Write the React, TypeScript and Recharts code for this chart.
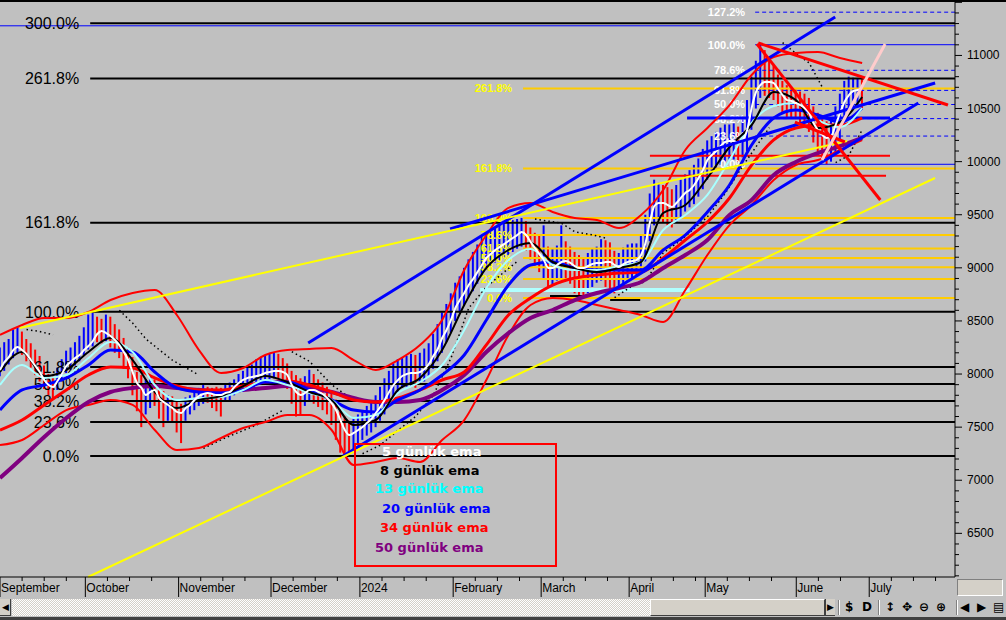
import React from 'react'
import { ComposedChart, Bar, Line, XAxis, YAxis, ReferenceLine, Cell } from 'recharts'

document.body.style.margin = '0'

const FONT = 'Liberation Sans, Arial, sans-serif'
const X_MAX = 216
const Y_MIN = 6089
const Y_MAX = 11522

// daily bars, one value per trading day (Sep 2023 .. late Jun 2024)
const highs = [
  8250, 8300, 8330, 8420, 8440, 8400, 8330, 8290, 8230, 8170,
  8080, 8000, 7990, 8060, 8140, 8220, 8250, 8300, 8360, 8440,
  8560, 8590, 8540, 8520, 8560, 8540, 8470, 8420, 8340, 8250,
  8160, 8020, 7990, 7950, 7980, 7950, 7880, 7840, 7800, 7790,
  7760, 7720, 7780, 7800, 7850, 7870, 7900, 7880, 7870, 7880,
  7870, 7900, 7920, 7950, 8000, 8030, 8060, 8090, 8140, 8160,
  8180, 8190, 8200, 8190, 8150, 8100, 8030, 7990, 7960, 7980,
  8040, 8000, 7950, 7920, 7880, 7840, 7760, 7680, 7600, 7560,
  7580, 7620, 7650, 7700, 7730, 7800, 7880, 7960, 8030, 8100,
  8140, 8160, 8170, 8190, 8180, 8200, 8240, 8290, 8380, 8470,
  8580, 8660, 8760, 8860, 8920, 9000, 9080, 9150, 9220, 9290,
  9330, 9360, 9380, 9400, 9420, 9440, 9450, 9460, 9470, 9440,
  9380, 9330, 9300, 9400, 9200, 9180, 9210, 9400, 9250, 9200,
  9150, 9120, 9100, 9140, 9180, 9200, 9270, 9260, 9240, 9160,
  9140, 9190, 9220, 9230, 9230, 9300, 9500, 9700, 9830, 9800,
  9780, 9760, 9740, 9780, 9830, 9880, 9920, 9970, 10030, 10120,
  10200, 10240, 10280, 10320, 10350, 10350, 10360, 10330, 10400, 10580,
  10800, 10950, 11101, 11050, 10950, 10900, 10820, 10760, 10720, 10700,
  10680, 10660, 10640, 10600, 10520, 10460, 10400, 10380, 10420, 10520,
  10640, 10760, 10800, 10790, 10780, 10780,
]
const lows = [
  7980, 8030, 8090, 8150, 8200, 8180, 8120, 8060, 7990, 7930,
  7860, 7800, 7760, 7850, 7930, 8010, 8040, 8080, 8120, 8180,
  8230, 8260, 8300, 8290, 8310, 8250, 8200, 8150, 8050, 7960,
  7800, 7650, 7500, 7620, 7680, 7700, 7580, 7500, 7560, 7540,
  7450, 7350, 7560, 7620, 7660, 7700, 7720, 7730, 7680, 7650,
  7600, 7740, 7750, 7800, 7840, 7870, 7880, 7880, 7900, 7920,
  7930, 7950, 7960, 7950, 7910, 7860, 7720, 7600, 7620, 7700,
  7740, 7720, 7690, 7660, 7620, 7520, 7380, 7260, 7228, 7240,
  7290, 7330, 7380, 7420, 7450, 7500, 7560, 7620, 7700, 7760,
  7830, 7870, 7880, 7880, 7870, 7900, 7930, 7980, 8050, 8120,
  8200, 8300, 8390, 8500, 8580, 8650, 8720, 8780, 8850, 8920,
  8980, 9020, 9050, 9070, 9100, 9120, 9150, 9180, 9200, 9160,
  9080, 9020, 8960, 8900, 8800, 8830, 8880, 8900, 8900, 8850,
  8760, 8730, 8717, 8760, 8820, 8860, 8880, 8820, 8800, 8760,
  8780, 8840, 8880, 8900, 8920, 8950, 9060, 9250, 9400, 9450,
  9430, 9400, 9380, 9430, 9480, 9530, 9570, 9600, 9670, 9740,
  9830, 9890, 9930, 9970, 10000, 10020, 10020, 10000, 10040, 10100,
  10300, 10500, 10600, 10620, 10600, 10580, 10520, 10460, 10420, 10420,
  10400, 10370, 10340, 10280, 10180, 10090, 10020, 9975, 10000, 10080,
  10200, 10350, 10480, 10500, 10510, 10500,
]
const ema5 = [
  8038, 8113, 8160, 8226, 8255, 8226, 8189, 8132, 8076, 8019,
  7944, 7897, 7878, 7935, 8000, 8076, 8113, 8151, 8179, 8226,
  8264, 8311, 8377, 8405, 8386, 8358, 8321, 8273, 8208, 8132,
  8019, 7916, 7869, 7803, 7831, 7850, 7774, 7737, 7709, 7680,
  7643, 7633, 7680, 7709, 7756, 7793, 7812, 7822, 7812, 7803,
  7803, 7822, 7831, 7878, 7916, 7944, 7963, 7972, 7982, 7991,
  8010, 8019, 8029, 8029, 8019, 7991, 7897, 7831, 7803, 7822,
  7850, 7850, 7831, 7812, 7774, 7727, 7661, 7567, 7473, 7426,
  7445, 7473, 7501, 7539, 7577, 7633, 7690, 7756, 7831, 7897,
  7944, 7982, 8000, 8010, 8010, 8019, 8047, 8095, 8170, 8236,
  8339, 8415, 8509, 8622, 8697, 8763, 8838, 8895, 8961, 9027,
  9093, 9130, 9168, 9196, 9224, 9253, 9281, 9309, 9337, 9309,
  9243, 9187, 9130, 9074, 8999, 8999, 9027, 9055, 9064, 9046,
  9017, 8999, 8999, 9017, 9036, 9046, 9046, 9055, 9055, 9027,
  9008, 9036, 9055, 9064, 9074, 9121, 9234, 9432, 9582, 9611,
  9611, 9592, 9573, 9611, 9658, 9705, 9733, 9780, 9846, 9921,
  10015, 10063, 10100, 10147, 10185, 10194, 10194, 10176, 10204, 10298,
  10505, 10656, 10722, 10750, 10750, 10740, 10684, 10627, 10580, 10571,
  10552, 10533, 10505, 10458, 10364, 10298, 10251, 10223, 10241, 10345,
  10458, 10562, 10627, 10665, 10675, 10684,
]

// slower averages and bollinger bands, read every 5th trading day
const SAMPLE_STEP = 5
const ema8 = [8019, 8208, 7982, 8038, 8208, 8339, 8132, 7831, 7680, 7756, 7793, 7887, 7982, 7925, 7831, 7756, 7520, 7567, 7850, 7963, 8226, 8650, 8999, 9168, 9234, 9055, 8999, 8961, 8999, 9055, 9516, 9592, 9846, 10138, 10345, 10656, 10580, 10317, 10373, 10609]
const ema13 = [7897, 8085, 7963, 7991, 8151, 8302, 8208, 7897, 7756, 7774, 7784, 7850, 7944, 7897, 7822, 7756, 7586, 7614, 7822, 7925, 8085, 8415, 8810, 9074, 9177, 9027, 8980, 8980, 9017, 9055, 9356, 9498, 9686, 10015, 10364, 10524, 10552, 10392, 10326, 10505]
const ema20 = [7661, 7850, 7897, 7963, 8085, 8226, 8208, 8019, 7869, 7831, 7822, 7850, 7925, 7925, 7850, 7756, 7661, 7643, 7756, 7850, 7991, 8179, 8509, 8838, 9027, 9055, 8999, 8980, 8980, 8980, 9168, 9309, 9526, 9780, 10157, 10411, 10486, 10439, 10373, 10505]
const ema34 = [7473, 7567, 7709, 7850, 7991, 8066, 8057, 7963, 7887, 7850, 7850, 7887, 7925, 7935, 7897, 7831, 7756, 7737, 7774, 7850, 7944, 8019, 8274, 8556, 8716, 8838, 8904, 8933, 8951, 8961, 9093, 9262, 9432, 9658, 9968, 10204, 10317, 10345, 10345, 10411]
const ema50 = [7021, 7210, 7407, 7586, 7737, 7831, 7869, 7887, 7869, 7850, 7840, 7850, 7869, 7887, 7869, 7831, 7774, 7737, 7737, 7756, 7850, 7991, 8208, 8386, 8528, 8603, 8697, 8763, 8810, 8867, 8999, 9121, 9262, 9498, 9639, 9874, 9997, 10081, 10147, 10223]
const bbUpper = [8368, 8462, 8528, 8528, 8584, 8697, 8763, 8791, 8556, 8226, 8010, 8057, 8179, 8226, 8236, 8245, 8132, 8038, 8132, 8274, 8509, 8980, 9309, 9564, 9611, 9526, 9469, 9451, 9375, 9498, 9733, 10110, 10317, 10533, 10816, 10985, 11023, 11032, 10976, 10929]
const bbLower = [7332, 7379, 7520, 7661, 7709, 7756, 7709, 7473, 7285, 7304, 7398, 7492, 7548, 7614, 7614, 7473, 7144, 7172, 7210, 7172, 7379, 7567, 7944, 8368, 8650, 8716, 8697, 8650, 8603, 8556, 8490, 8791, 9121, 9403, 9592, 9827, 9968, 10015, 10110, 10204]

// parabolic-sar style dotted runs: [day, price]
const sarRuns: [number, number][][] = [
  [[6, 8420], [9, 8400], [12, 8370]],
  [[27, 8600], [30, 8480], [33, 8330], [36, 8230], [39, 8130], [42, 8060], [45, 7990]],
  [[46, 7300], [51, 7400], [58, 7520], [64, 7660]],
  [[66, 8210], [70, 8120], [75, 7900], [79, 7780]],
  [[82, 7250], [86, 7330], [90, 7470], [94, 7600], [98, 7800], [102, 8150], [106, 8620], [110, 8820], [114, 8960], [117, 9060]],
  [[121, 9460], [124, 9440], [127, 9420], [130, 9340], [134, 9310], [137, 9280]],
  [[139, 8720], [143, 8830], [146, 8870], [150, 9140], [154, 9260], [160, 9480], [164, 9700], [168, 9960], [171, 10140], [174, 10320]],
  [[177, 11120], [180, 11020], [183, 10930], [186, 10700]],
  [[189, 9990], [192, 10060], [195, 10300]],
]

// fibonacci sets
const blackFibLow = 7228
const blackFibHigh = 8586
const blackFibRatios = [0, 23.6, 38.2, 50, 61.8, 100, 161.8, 261.8, 300]
const blackFibStart = 20.4
const yellowFibLow = 8717
const yellowFibHigh = 9470
const yellowFibRatios = [0, 23.6, 38.2, 50, 61.8, 78.6, 100, 161.8, 261.8]
const yellowFibStart = 118.3
const blueFibLow = 9975
const blueFibHigh = 11101
const blueFibRatios = [0, 23.6, 38.2, 50, 61.8, 78.6, 100, 127.2]
const blueFibStart = 170.8

// hand drawn trend lines: [[day, price], [day, price]]
const blueTrends = [
  [[69.7, 8292], [188.9, 11362]],
  [[77.6, 7228], [207.7, 10552]],
  [[101.8, 9366], [211.5, 10740]],
]
const yellowTrends = [
  [[19.9, 6089], [211.5, 9846]],
  [[4.5, 8434], [191.6, 10194]],
]
const redTrends = [
  [[171.5, 11117], [214.4, 10533]],
  [[171.2, 11108], [199.1, 9639]],
  [[179.8, 10373], [191.1, 10185]],
]
const pinkTrend = [[185.9, 10015], [200.2, 11108]]

// flat marker lines: [fromDay, toDay, price]
const redFlats = [[147, 201.3, 10056], [147, 200.4, 9868]]
const blueFlat = [155.4, 201.3, 10411]
const cyanFlat = [108.6, 156, 8791]
const blackFlats = [[124.4, 133.5, 8735], [138, 144.8, 8697]]
const topBlueLevel = 11279

const monthTicks = [0, 19.3, 40.4, 61.3, 81.4, 102.5, 122.4, 142.3, 159.5, 180.1, 196.6]
const monthLabels = ['September', 'October', 'November', 'December', '2024', 'February', 'March', 'April', 'May', 'June', 'July']

const legendItems = ['5 günlük ema', '8 günlük ema', '13 günlük ema', '20 günlük ema', '34 günlük ema', '50 günlük ema']
const legendColors = ['#ffffff', '#000000', '#00ffff', '#0000ff', '#ff0000', '#800080']

const rows = Array.from({ length: X_MAX + 1 }, (_, i) => {
  const row: Record<string, any> = { x: i }
  if (i < highs.length) row.range = [lows[i], highs[i]]
  if (i < ema5.length) row.e5 = ema5[i]
  if (i % SAMPLE_STEP === 0) {
    const k = i / SAMPLE_STEP
    if (k < ema8.length) {
      row.e8 = ema8[k]
      row.e13 = ema13[k]
      row.e20 = ema20[k]
      row.e34 = ema34[k]
      row.e50 = ema50[k]
      row.bbU = bbUpper[k]
      row.bbL = bbLower[k]
    }
  }
  return row
})
sarRuns.forEach((run, s) => run.forEach(([d, v]) => { rows[d]['sar' + s] = v }))

const barColor = (i: number) => {
  if (i === 0) return '#0000ff'
  const mid = (highs[i] + lows[i]) / 2
  const prev = (highs[i - 1] + lows[i - 1]) / 2
  return mid >= prev ? '#0000ff' : '#ff0000'
}

const xTicks: number[] = []
monthTicks.forEach((m, k) => {
  xTicks.push(m)
  const next = k + 1 < monthTicks.length ? monthTicks[k + 1] : X_MAX
  for (let t = m + 5; t < next - 1.5; t += 5) xTicks.push(Math.round(t * 10) / 10)
})
const yTicks: number[] = []
for (let v = 6100; v <= 11500; v += 100) yTicks.push(v)

const pct = (r: number) => r.toFixed(1) + '%'

function DateTick(props: any) {
  const { x, y, payload } = props
  const m = monthTicks.indexOf(payload.value)
  if (m < 0) return <line x1={x} x2={x} y1={y} y2={y + 4} stroke="#000" />
  return (
    <g>
      <line x1={x} x2={x} y1={y} y2={y + 20} stroke="#000" />
      <text x={x + 1} y={y + 15} fontSize={12} fill="#000" fontFamily={FONT}>
        {monthLabels[m]}
      </text>
    </g>
  )
}

function PriceTick(props: any) {
  const { x, y, payload } = props
  const v = payload.value
  const major = v % 500 === 0
  const labelled = major && v >= 6500 && v <= 11000
  return (
    <g>
      <line x1={x} x2={x + (major ? 7 : 4)} y1={y} y2={y} stroke="#000" />
      {labelled && (
        <text x={x + 12} y={y + 4} fontSize={12} fill="#000" fontFamily={FONT}>
          {v}
        </text>
      )}
    </g>
  )
}

const sideLabel = (text: string, color: string, size: number, bold: boolean, gap: number) => (p: any) => {
  const vb = p.viewBox || {}
  return (
    <text
      x={(vb.x ?? 0) - gap}
      y={(vb.y ?? 0) + size * 0.36}
      textAnchor="end"
      fontSize={size}
      fontWeight={bold ? 'bold' : 'normal'}
      fill={color}
      fontFamily={FONT}
    >
      {text}
    </text>
  )
}

const seg = (a: number[], b: number[]) => [{ x: a[0], y: a[1] }, { x: b[0], y: b[1] }] as any

export default function App() {
  return (
    <div style={{ position: 'relative', width: 1006, height: 620, background: '#c0c0c0', overflow: 'hidden', fontFamily: FONT }}>
      <ComposedChart width={1006} height={597} data={rows} margin={{ top: 0, right: 0, bottom: 0, left: 0 }}>
        <XAxis
          dataKey="x"
          type="number"
          domain={[0, X_MAX]}
          ticks={xTicks}
          interval={0}
          tick={<DateTick />}
          tickLine={false}
          tickSize={0}
          tickMargin={0}
          height={20}
          axisLine={{ stroke: '#000' }}
          allowDataOverflow
        />
        <YAxis
          orientation="right"
          type="number"
          domain={[Y_MIN, Y_MAX]}
          ticks={yTicks}
          interval={0}
          tick={<PriceTick />}
          tickLine={false}
          tickSize={0}
          tickMargin={0}
          width={51}
          axisLine={{ stroke: '#000' }}
          allowDataOverflow
        />

        <ReferenceLine y={topBlueLevel} stroke="#0000ff" strokeWidth={1} ifOverflow="visible" />

        {blackFibRatios.map((r) => {
          const v = blackFibLow + (r / 100) * (blackFibHigh - blackFibLow)
          return (
            <ReferenceLine
              key={'bf' + r}
              segment={seg([blackFibStart, v], [X_MAX, v])}
              stroke="#000"
              strokeWidth={2}
              ifOverflow="visible"
              label={sideLabel(pct(r), '#000', 16, false, 11)}
            />
          )
        })}

        {yellowFibRatios.map((r) => {
          const v = yellowFibLow + (r / 100) * (yellowFibHigh - yellowFibLow)
          return (
            <ReferenceLine
              key={'yf' + r}
              segment={seg([yellowFibStart, v], [X_MAX, v])}
              stroke="#ffcc00"
              strokeWidth={2}
              ifOverflow="visible"
              label={sideLabel(pct(r), '#ffff00', 11, true, 11)}
            />
          )
        })}

        {blueFibRatios.map((r) => {
          const v = blueFibLow + (r / 100) * (blueFibHigh - blueFibLow)
          const solid = r === 0 || r === 100
          return (
            <ReferenceLine
              key={'mf' + r}
              segment={seg([blueFibStart, v], [X_MAX, v])}
              stroke="#0000ff"
              strokeWidth={1}
              strokeDasharray={solid ? undefined : '4 3'}
              ifOverflow="visible"
              label={sideLabel(pct(r), '#ffffff', 11, true, 10)}
            />
          )
        })}

        {redFlats.map((f, k) => (
          <ReferenceLine key={'rf' + k} segment={seg([f[0], f[2]], [f[1], f[2]])} stroke="#ff0000" strokeWidth={2} ifOverflow="visible" />
        ))}
        <ReferenceLine segment={seg([blueFlat[0], blueFlat[2]], [blueFlat[1], blueFlat[2]])} stroke="#0000ff" strokeWidth={3} ifOverflow="visible" />
        <ReferenceLine segment={seg([cyanFlat[0], cyanFlat[2]], [cyanFlat[1], cyanFlat[2]])} stroke="#b0ffff" strokeWidth={4} ifOverflow="visible" />
        {blackFlats.map((f, k) => (
          <ReferenceLine key={'kf' + k} segment={seg([f[0], f[2]], [f[1], f[2]])} stroke="#000" strokeWidth={2} ifOverflow="visible" />
        ))}

        <Bar dataKey="range" barSize={2} isAnimationActive={false}>
          {rows.map((_, i) => (
            <Cell key={i} fill={i < highs.length ? barColor(i) : 'none'} />
          ))}
        </Bar>

        {sarRuns.map((_, s) => (
          <Line
            key={'sar' + s}
            dataKey={'sar' + s}
            stroke="#000"
            strokeWidth={1.5}
            strokeDasharray="1.5 3"
            dot={false}
            activeDot={false}
            connectNulls
            isAnimationActive={false}
          />
        ))}

        <Line dataKey="bbU" type="monotone" stroke="#ff0000" strokeWidth={2} dot={false} activeDot={false} connectNulls isAnimationActive={false} />
        <Line dataKey="bbL" type="monotone" stroke="#ff0000" strokeWidth={2} dot={false} activeDot={false} connectNulls isAnimationActive={false} />
        <Line dataKey="e50" type="monotone" stroke="#800080" strokeWidth={4} dot={false} activeDot={false} connectNulls isAnimationActive={false} />
        <Line dataKey="e34" type="monotone" stroke="#ff0000" strokeWidth={3} dot={false} activeDot={false} connectNulls isAnimationActive={false} />
        <Line dataKey="e20" type="monotone" stroke="#0000ff" strokeWidth={3} dot={false} activeDot={false} connectNulls isAnimationActive={false} />
        <Line dataKey="e13" type="monotone" stroke="#a8ffff" strokeWidth={2} dot={false} activeDot={false} connectNulls isAnimationActive={false} />
        <Line dataKey="e8" type="monotone" stroke="#000000" strokeWidth={2} dot={false} activeDot={false} connectNulls isAnimationActive={false} />
        <Line dataKey="e5" type="monotone" stroke="#ffffff" strokeWidth={2} dot={false} activeDot={false} connectNulls isAnimationActive={false} />

        {blueTrends.map((t, k) => (
          <ReferenceLine key={'bt' + k} segment={seg(t[0], t[1])} stroke="#0000ff" strokeWidth={3} ifOverflow="visible" />
        ))}
        {yellowTrends.map((t, k) => (
          <ReferenceLine key={'yt' + k} segment={seg(t[0], t[1])} stroke="#ffff00" strokeWidth={2} ifOverflow="visible" />
        ))}
        {redTrends.map((t, k) => (
          <ReferenceLine key={'rt' + k} segment={seg(t[0], t[1])} stroke="#ff0000" strokeWidth={3} ifOverflow="visible" />
        ))}
        <ReferenceLine segment={seg(pinkTrend[0], pinkTrend[1])} stroke="#ffcccc" strokeWidth={3} ifOverflow="visible" />
      </ComposedChart>

      {/* legend box */}
      <div style={{ position: 'absolute', left: 354, top: 443, width: 199, height: 120, border: '2px solid #ff0000' }} />
      {legendItems.map((t, k) => (
        <div
          key={t}
          style={{
            position: 'absolute',
            left: [382, 380, 375, 382, 380, 375][k],
            top: [452, 471, 489, 509, 528, 548][k] - 9,
            color: legendColors[k],
            font: 'bold 13px "DejaVu Sans", Verdana, sans-serif',
            lineHeight: '18px',
            whiteSpace: 'nowrap',
          }}
        >
          {t}
        </div>
      ))}

      {/* window chrome */}
      <div style={{ position: 'absolute', left: 0, top: 0, width: 1006, height: 2, background: '#000' }} />
      <div
        style={{
          position: 'absolute', left: 957, top: 579, width: 44, height: 15,
          background: '#d4d0c8', borderTop: '1px solid #808080', borderLeft: '1px solid #808080',
          borderBottom: '1px solid #fff', borderRight: '1px solid #fff',
        }}
      />
      <div style={{ position: 'absolute', left: 0, top: 598, width: 1006, height: 19, background: '#c0c0c0' }}>
        <div style={{ position: 'absolute', left: 0, top: 1, width: 10, height: 16, background: '#d4d0c8', borderRight: '1px solid #404040', borderBottom: '1px solid #404040', fontSize: 9, lineHeight: '16px', textAlign: 'center' }}>◀</div>
        <div
          style={{
            position: 'absolute', left: 12, top: 1, width: 638, height: 17,
            backgroundImage: 'repeating-conic-gradient(#ffffff 0 25%, #d4d0c8 0 50%)',
            backgroundSize: '2px 2px',
          }}
        />
        <div style={{ position: 'absolute', left: 650, top: 1, width: 173, height: 15, background: '#d4d0c8', borderTop: '1px solid #fff', borderLeft: '1px solid #fff', borderRight: '1px solid #404040', borderBottom: '1px solid #404040' }} />
        <div style={{ position: 'absolute', left: 825, top: 1, width: 9, height: 16, background: '#d4d0c8', borderLeft: '1px solid #404040', borderBottom: '1px solid #404040', fontSize: 9, lineHeight: '16px', textAlign: 'center' }}>▶</div>
        {[
          ['$', 845], ['D', 862], ['↕', 885], ['✥', 902], ['⊖', 919], ['⊕', 936], ['◀', 960], ['▶', 977], ['▤', 993],
        ].map(([g, x]) => (
          <div key={String(x)} style={{ position: 'absolute', left: x as number, top: 1, fontSize: 12, lineHeight: '17px', color: '#000', fontFamily: '"DejaVu Sans", sans-serif', fontWeight: 'bold' }}>
            {g}
          </div>
        ))}
        {[838, 878, 956].map((x) => (
          <div key={x} style={{ position: 'absolute', left: x, top: 2, width: 1, height: 15, background: '#808080', borderRight: '1px solid #fff' }} />
        ))}
      </div>
      <div style={{ position: 'absolute', left: 0, top: 617, width: 1006, height: 3, background: '#404040' }} />
    </div>
  )
}
